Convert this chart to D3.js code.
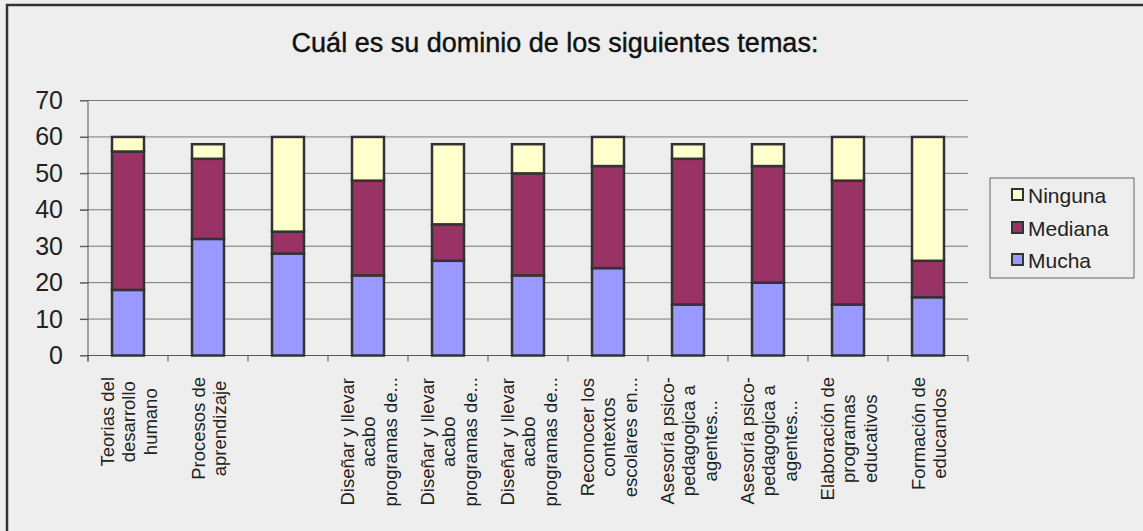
<!DOCTYPE html>
<html><head><meta charset="utf-8">
<script src="https://cdn.jsdelivr.net/npm/d3@7"></script>
<style>
html,body{margin:0;padding:0;background:#eeeeee;}
svg{display:block;font-family:"Liberation Sans",Arial,sans-serif;}
</style></head>
<body>
<svg id="chart" width="1143" height="531"></svg>
<script>
const title = "Cuál es su dominio de los siguientes temas:";
const categories = [
  ["Teorias del","desarrollo","humano"],
  ["Procesos de","aprendizaje"],
  [],
  ["Diseñar y llevar","acabo","programas de..."],
  ["Diseñar y llevar","acabo","programas de..."],
  ["Diseñar y llevar","acabo","programas de..."],
  ["Reconocer los","contextos","escolares en..."],
  ["Asesoría psico-","pedagogica a","agentes..."],
  ["Asesoría psico-","pedagogica a","agentes..."],
  ["Elaboración de","programas","educativos"],
  ["Formación de","educandos"]
];
const seriesNames = ["Mucha","Mediana","Ninguna"];
const mucha   = [18,32,28,22,26,22,24,14,20,14,16];
const mediana = [38,22, 6,26,10,28,28,40,32,34,10];
const ninguna = [ 4, 4,26,12,22, 8, 8, 4, 6,12,34];
const yTicks = [0,10,20,30,40,50,60,70];
const colors = {Mucha:"#9999ff", Mediana:"#993366", Ninguna:"#ffffcc"};

(function(){
const svg = d3.select("#chart");
svg.append("rect").attr("x",7).attr("y",5).attr("width",1200).attr("height",600)
  .attr("fill","#eeeeee").attr("stroke","#333").attr("stroke-width",2.5);

const pL=88, pR=968, pT=100.5, pB=355.5;
const idx = categories.map((d,i)=>i);
const x = d3.scaleBand().domain(idx).range([pL,pR]).paddingInner(0.6).paddingOuter(0.3);
const xb = d3.scaleBand().domain(idx).range([pL,pR]);
const y = d3.scaleLinear().domain([0,70]).range([pB,pT]);

svg.append("g").selectAll("line").data(yTicks).join("line")
  .attr("x1",pL-8).attr("x2",pR).attr("y1",d=>y(d)).attr("y2",d=>y(d))
  .attr("stroke","#7a7a7a").attr("stroke-width",1);

const yAxis = svg.append("g").attr("transform",`translate(${pL},0)`)
  .call(d3.axisLeft(y).tickValues(yTicks).tickSize(8).tickPadding(17));
yAxis.select(".domain").remove();
yAxis.selectAll(".tick line").attr("stroke","#555");
yAxis.selectAll("text").attr("font-size",25).attr("fill","#222").attr("font-family","Liberation Sans, Arial, sans-serif");

svg.append("line").attr("x1",pL).attr("x2",pR).attr("y1",pB).attr("y2",pB).attr("stroke","#555");
svg.append("line").attr("x1",pL).attr("x2",pL).attr("y1",pT).attr("y2",pB+6).attr("stroke","#555");
svg.append("g").selectAll("line").data(d3.range(categories.length+1)).join("line")
  .attr("x1",d=>pL+d*xb.bandwidth()).attr("x2",d=>pL+d*xb.bandwidth())
  .attr("y1",pB).attr("y2",pB+6).attr("stroke","#555");

const table = idx.map(i=>({i, Mucha:mucha[i], Mediana:mediana[i], Ninguna:ninguna[i]}));
const stack = d3.stack().keys(seriesNames)(table);
svg.append("g").selectAll("g").data(stack).join("g")
  .attr("fill",d=>colors[d.key])
  .selectAll("rect").data(d=>d).join("rect")
  .attr("x",d=>x(d.data.i)).attr("width",x.bandwidth())
  .attr("y",d=>y(d[1])).attr("height",d=>y(d[0])-y(d[1]))
  .attr("stroke","#333").attr("stroke-width",2.5);

const lblTop = 377, lh = 21.5, fs = 18.5;
const lg = svg.append("g");
categories.forEach((lines,i)=>{
  if(!lines.length) return;
  const g = lg.append("g").attr("transform",`translate(${xb(i)+xb.bandwidth()/2+1},${lblTop}) rotate(-90)`);
  const t = g.append("text").attr("text-anchor","middle").attr("font-size",fs).attr("fill","#222");
  lines.forEach((s,k)=>{
    t.append("tspan").attr("x",0).attr("y",(k-(lines.length-1)/2)*lh + fs*0.35).text(s);
  });
  let w = 0;
  t.selectAll("tspan").each(function(){ w=Math.max(w,this.getComputedTextLength()); });
  t.selectAll("tspan").attr("x",-w/2);
});

svg.append("text").attr("x",555).attr("y",52).attr("text-anchor","middle")
  .attr("font-size",27).attr("fill","#111").attr("stroke","#111").attr("stroke-width",0.4).text(title);

const leg = svg.append("g");
leg.append("rect").attr("x",990).attr("y",178).attr("width",144).attr("height",100)
  .attr("fill","#eeeeee").attr("stroke","#666").attr("stroke-width",1);
const legOrder = ["Ninguna","Mediana","Mucha"];
const legY = [195,228,260];
legOrder.forEach((k,j)=>{
  leg.append("rect").attr("x",1012).attr("y",legY[j]-6).attr("width",11).attr("height",11)
    .attr("fill",colors[k]).attr("stroke","#333").attr("stroke-width",2);
  leg.append("text").attr("x",1028).attr("y",legY[j]+7.5).attr("font-size",21).attr("fill","#222").text(k);
});
})();
</script>
</body></html>
